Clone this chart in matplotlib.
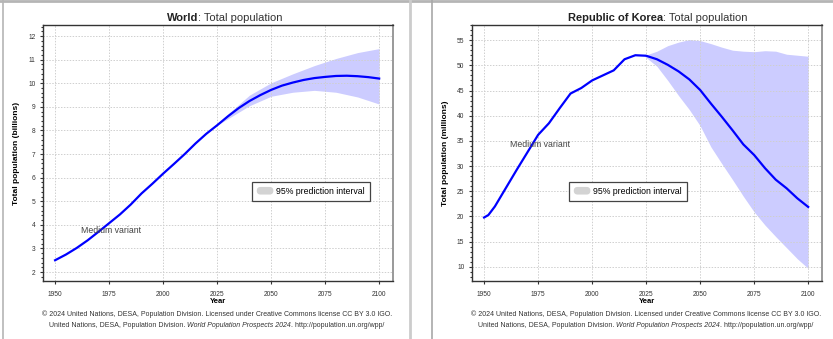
import matplotlib
matplotlib.use("Agg")
import matplotlib.pyplot as plt
from matplotlib.lines import Line2D
from matplotlib.patches import Patch, FancyBboxPatch
from matplotlib.legend_handler import HandlerPatch
from matplotlib.ticker import MultipleLocator

plt.rcParams['font.family'] = ['Liberation Sans', 'DejaVu Sans']

# World (billions)
world_years = [1950, 1955, 1960, 1965, 1970, 1975, 1980, 1985, 1990, 1995, 2000, 2005, 2010,
               2015, 2020, 2025, 2030, 2035, 2040, 2045, 2050, 2055, 2060, 2065, 2070, 2075,
               2080, 2085, 2090, 2095, 2100]
world_pop = [2.50, 2.74, 3.02, 3.34, 3.70, 4.07, 4.44, 4.86, 5.33, 5.74, 6.17, 6.58, 7.00,
             7.45, 7.86, 8.22, 8.60, 8.95, 9.25, 9.50, 9.72, 9.90, 10.03, 10.14, 10.22, 10.27,
             10.31, 10.32, 10.30, 10.26, 10.20]
world_band_years = [2024, 2030, 2040, 2050, 2060, 2070, 2080, 2090, 2100]
world_low = [8.16, 8.50, 9.05, 9.45, 9.62, 9.70, 9.62, 9.42, 9.12]
world_high = [8.16, 8.70, 9.50, 10.02, 10.40, 10.75, 11.05, 11.30, 11.47]

# Republic of Korea (millions)
korea_years = [1950, 1952, 1955, 1960, 1965, 1970, 1975, 1980, 1985, 1990, 1995, 2000, 2005,
               2010, 2015, 2020, 2025, 2030, 2035, 2040, 2045, 2050, 2055, 2060, 2065, 2070,
               2075, 2080, 2085, 2090, 2095, 2100]
korea_pop = [19.8, 20.3, 22.0, 25.6, 29.2, 32.7, 36.2, 38.5, 41.5, 44.4, 45.5, 47.0, 48.0,
             49.0, 51.2, 52.0, 51.9, 51.2, 50.1, 48.8, 47.2, 45.1, 42.4, 39.8, 37.1, 34.3,
             32.2, 29.6, 27.3, 25.6, 23.6, 21.9]
korea_band_years = [2024, 2030, 2035, 2040, 2045, 2050, 2055, 2060, 2065, 2070, 2075, 2080,
                    2085, 2090, 2095, 2100]
korea_low = [51.9, 49.8, 47.0, 44.0, 41.2, 38.0, 33.8, 30.5, 27.3, 24.0, 20.9, 18.3, 16.0,
             13.8, 11.6, 9.7]
korea_high = [51.9, 52.8, 53.9, 54.6, 55.1, 54.9, 54.3, 53.6, 53.0, 52.8, 52.7, 52.9, 52.8,
              52.2, 52.0, 51.8]

x_ticks = [1950, 1975, 2000, 2025, 2050, 2075, 2100]

W, H = 833, 339
fig = plt.figure(figsize=(W / 100, H / 100), dpi=100)


def px(x, y):
    return x / W, 1 - y / H


def pill(legend, orig_handle, xdescent, ydescent, width, height, fontsize):
    # rounded grey swatch like the original legend
    h = 5.5
    y0 = -ydescent + (height - h) / 2
    return FancyBboxPatch((-xdescent, y0), width, h,
                          boxstyle='round,pad=0,rounding_size=%f' % (h / 2))


def panel(left, unit, years, pop, band_years, low, high, ylim, major, minor,
          legend_x, mv_xy):
    ax = fig.add_axes([left / W, 1 - 281 / H, 350 / W, 256 / H])
    ax.fill_between(band_years, low, high, color='#ccccff', lw=0)
    ax.plot(years, pop, color='#0000ff', lw=1.6)
    ax.set_xlim(1944.4, 2106.4)
    ax.set_ylim(*ylim)
    ax.set_xticks(x_ticks)
    ax.yaxis.set_major_locator(MultipleLocator(major))
    ax.yaxis.set_minor_locator(MultipleLocator(minor))
    ax.grid(True, which='major', color='#cfcfcf', ls=(0, (1.5, 1.5)), lw=0.7)
    ax.tick_params(labelsize=4.8, colors='#333333', length=2.5, width=0.8, pad=5)
    ax.tick_params(axis='y', which='minor', length=1.5, width=0.8, colors='#333333')
    ax.tick_params(axis='y', pad=3)
    for s in ['top', 'left', 'bottom']:
        ax.spines[s].set_color('#333333')
        ax.spines[s].set_linewidth(1.0)
    ax.spines['right'].set_color('#999999')
    ax.spines['right'].set_linewidth(1.4)
    ax.set_xlabel('Year', fontsize=5.5, fontweight='bold', labelpad=0)
    ax.set_ylabel('Total population (%s)' % unit, fontsize=6, fontweight='bold', labelpad=6)
    ax.text(*mv_xy, 'Medium variant', fontsize=6.3, color='#444444')
    leg = ax.legend([Patch(facecolor='#d3d3d3', edgecolor='none')], ['95% prediction interval'],
                    loc='upper left', bbox_to_anchor=(legend_x, 0.387), fontsize=6.3,
                    fancybox=False, framealpha=1, edgecolor='#444444', handlelength=1.9,
                    handleheight=1.0, borderpad=0.55, borderaxespad=0, handletextpad=0.35,
                    handler_map={Patch: HandlerPatch(patch_func=pill)})
    leg.get_frame().set_linewidth(0.9)
    return ax


panel(43, 'billions', world_years, world_pop, world_band_years, world_low, world_high,
      (1.62, 12.47), 1, 0.2, 0.597, (1962, 3.65))
panel(472, 'millions', korea_years, korea_pop, korea_band_years, korea_low, korea_high,
      (7.2, 58.0), 5, 1, 0.277, (1962, 33.8))


def title(x, bold, rest):
    t = fig.text(*px(x, 21), bold, fontsize=8, fontweight='bold', color='#222222')
    plt.annotate(rest, xy=(1, 0), xycoords=t, fontsize=8, color='#333333', va='bottom')


def footnote(cx):
    fig.text(*px(cx, 316), '\u00a9 2024 United Nations, DESA, Population Division. Licensed under '
             'Creative Commons license CC BY 3.0 IGO.', fontsize=5.05, ha='center', color='#333333')
    t1 = fig.text(*px(cx - 168, 327), 'United Nations, DESA, Population Division. ',
                  fontsize=5.05, color='#333333')
    t2 = plt.annotate('World Population Prospects 2024', xy=(1, 0), xycoords=t1, fontsize=5.05,
                      style='italic', color='#333333', va='bottom')
    plt.annotate('. http://population.un.org/wpp/', xy=(1, 0), xycoords=t2, fontsize=5.05,
                 color='#333333', va='bottom')


title(167, 'World', ': Total population')
title(568, 'Republic of Korea', ': Total population')
footnote(217)
footnote(646)

# panel frames
fig.add_artist(Line2D([0, 1], [1 - 1 / H] * 2, color='#b5b5b5', lw=2))
fig.add_artist(Line2D([3 / W] * 2, [0, 1], color='#b5b5b5', lw=1.2))
fig.add_artist(Line2D([410 / W] * 2, [0, 1], color='#cccccc', lw=2))
fig.add_artist(Line2D([432 / W] * 2, [0, 1], color='#a8a8a8', lw=1.2))

fig.savefig('out.png', dpi=100)
